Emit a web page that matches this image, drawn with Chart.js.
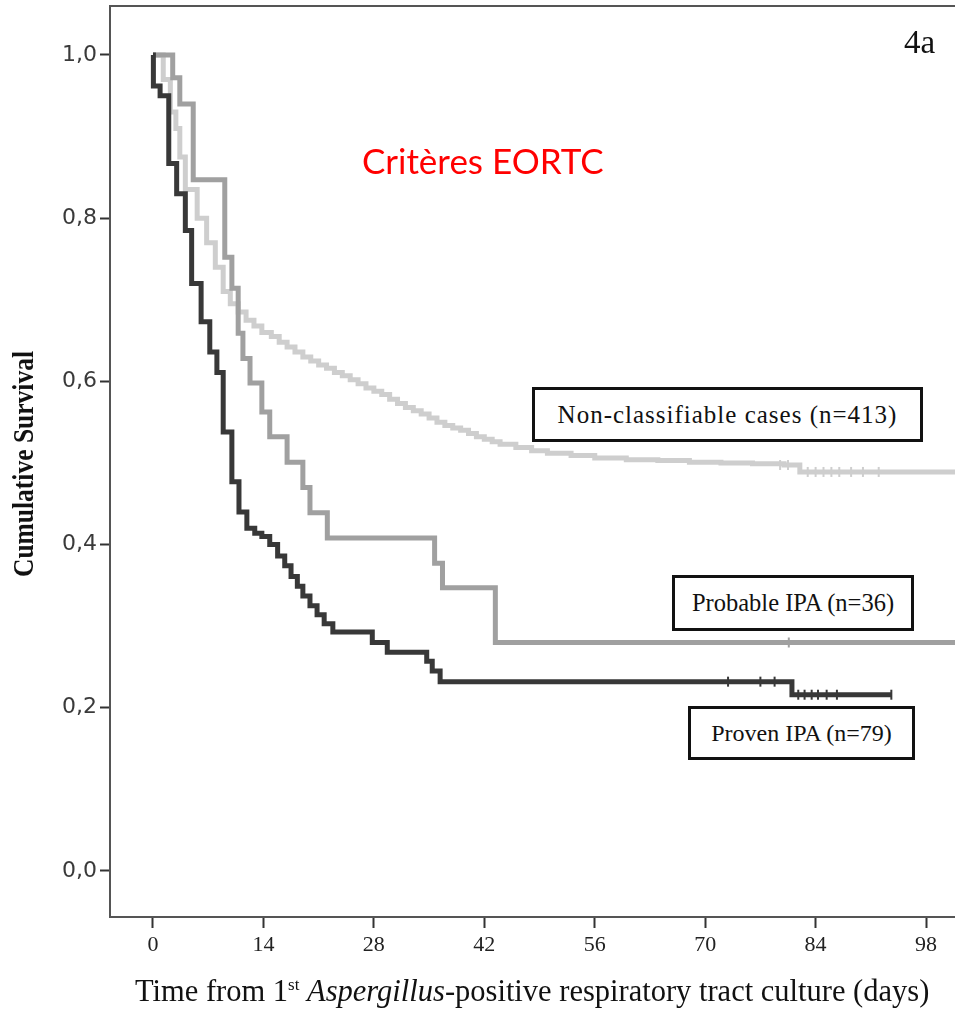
<!DOCTYPE html>
<html>
<head>
<meta charset="utf-8">
<script src="https://cdn.jsdelivr.net/npm/chart.js@4.4.1/dist/chart.umd.min.js"></script>
<style>
  html, body { margin: 0; background: #fff; overflow: hidden; }
  #wrap { position: relative; width: 955px; height: 1017px; overflow: hidden; }
  #km { display: block; }
  .box { position: absolute; box-sizing: border-box; border: 3px solid #111; background: #fff;
         font-family: "Liberation Serif", "Times New Roman", serif; color: #111;
         display: flex; align-items: center; justify-content: center; white-space: nowrap; }
  .note { position: absolute; white-space: nowrap; }
  #ytitle { position: absolute; left: 23px; top: 464px; white-space: nowrap;
            font-family: "Liberation Serif", serif; font-weight: bold; font-size: 30px; color: #111;
            transform: translate(-50%, -50%) rotate(-90deg) scaleX(0.85); }
</style>
</head>
<body>
<div id="wrap">
  <canvas id="km" width="955" height="1017"></canvas>
  <div id="ytitle">Cumulative Survival</div>
  <div class="note" style="left:904px;top:24px;font-family:'Liberation Serif',serif;font-size:33px;color:#111;">4a</div>
  <div class="note" style="left:362px;top:139px;font-family:Lato,'Open Sans',sans-serif;font-size:35px;color:#ff0000;">Critères EORTC</div>
  <div class="box" style="left:532px;top:387px;width:391px;height:55px;font-size:25px;letter-spacing:1px;">Non-classifiable cases (n=413)</div>
  <div class="box" style="left:672px;top:575px;width:242px;height:56px;font-size:24.5px;">Probable IPA (n=36)</div>
  <div class="box" style="left:688px;top:706px;width:227px;height:54px;font-size:24px;">Proven IPA (n=79)</div>
  <div class="note" style="left:135px;top:974px;font-family:'Liberation Serif',serif;font-size:30.5px;color:#111;">Time from 1<sup style="font-size:17px;">st</sup> <i>Aspergillus</i>-positive respiratory tract culture (days)</div>
</div>
<script>
// Kaplan-Meier curves (days, cumulative survival)
const provenDays = [0, 0.05, 0.9, 2.0, 3.0, 4.1, 4.9, 6.1, 7.2, 8.1, 8.9, 10.0, 10.9, 11.9, 12.9, 13.8, 14.8, 15.8, 16.7, 17.5, 18.3, 19.0, 19.9, 20.8, 21.7, 22.8, 27.8, 29.7, 34.7, 35.4, 36.4, 81.0, 93.6];
const provenSurv = [1.0, 0.962, 0.95, 0.867, 0.83, 0.785, 0.72, 0.673, 0.636, 0.611, 0.538, 0.477, 0.44, 0.42, 0.414, 0.41, 0.40, 0.386, 0.374, 0.361, 0.349, 0.337, 0.325, 0.314, 0.303, 0.293, 0.28, 0.268, 0.257, 0.245, 0.232, 0.216, 0.216];
const provenCensDays = [72.9, 77.0, 78.8, 81.8, 82.6, 83.5, 84.3, 85.4, 86.7, 93.6];
const provenCensSurv = [0.232, 0.232, 0.232, 0.216, 0.216, 0.216, 0.216, 0.216, 0.216, 0.216];

const probableDays = [0, 2.5, 3.4, 5.1, 9.1, 10.0, 10.8, 11.4, 12.3, 13.8, 14.8, 17.0, 19.0, 19.9, 22.1, 35.7, 36.7, 43.4, 101.7];
const probableSurv = [1.0, 0.972, 0.94, 0.847, 0.752, 0.714, 0.659, 0.628, 0.598, 0.5625, 0.532, 0.501, 0.47, 0.439, 0.408, 0.377, 0.347, 0.28, 0.28];
const probableCensDays = [80.6];
const probableCensSurv = [0.28];

const nonClassDays = [0, 1.3, 2.2, 2.9, 3.4, 4.1, 5.6, 6.8, 7.9, 8.9, 9.8, 10.8, 11.8, 12.8, 13.8, 15, 16, 17, 18, 19, 20, 21, 22, 23, 24, 25, 26, 27, 28, 29, 30, 31, 32, 33, 34, 35, 36, 37, 38, 39, 40, 41, 42, 43, 44, 46, 48, 50, 53, 56, 60, 64, 68, 72, 76, 80, 82, 101.7];
const nonClassSurv = [1.0, 0.97, 0.93, 0.91, 0.875, 0.835, 0.80, 0.77, 0.74, 0.71, 0.695, 0.685, 0.675, 0.668, 0.66, 0.655, 0.648, 0.642, 0.636, 0.63, 0.625, 0.62, 0.616, 0.611, 0.607, 0.602, 0.597, 0.592, 0.588, 0.584, 0.578, 0.573, 0.568, 0.564, 0.56, 0.555, 0.55, 0.546, 0.543, 0.54, 0.536, 0.532, 0.529, 0.526, 0.523, 0.519, 0.515, 0.512, 0.509, 0.506, 0.504, 0.503, 0.501, 0.5, 0.499, 0.4975, 0.489, 0.489];
const nonClassCensDays = [79.5, 80.5, 83.0, 84.0, 85.0, 86.0, 87.0, 88.5, 90.0, 92.0];
const nonClassCensSurv = [0.4975, 0.4975, 0.489, 0.489, 0.489, 0.489, 0.489, 0.489, 0.489, 0.489];

const xTicks = [0, 14, 28, 42, 56, 70, 84, 98];
const yTicks = [0.0, 0.2, 0.4, 0.6, 0.8, 1.0];

const pts = (xs, ys) => xs.map((x, i) => ({ x: x, y: ys[i] }));

function curve(xs, ys, color) {
    return {
        type: 'line',
        data: pts(xs, ys),
        borderColor: color,
        borderWidth: 5,
        stepped: 'before',   // horizontal then vertical, like a KM plot
        pointRadius: 0,
        fill: false
    };
}

function censors(xs, ys, color) {
    return {
        type: 'scatter',
        data: pts(xs, ys),
        borderColor: color,
        backgroundColor: color,
        pointStyle: 'line',
        rotation: 90,
        pointRadius: 5,
        borderWidth: 2
    };
}

// top frame line of the plot box
const frameTop = {
    id: 'frameTop',
    afterDraw(chart) {
        const { ctx, chartArea } = chart;
        ctx.save();
        ctx.strokeStyle = '#555';
        ctx.lineWidth = 2;
        ctx.beginPath();
        ctx.moveTo(chartArea.left, chartArea.top);
        ctx.lineTo(chartArea.right, chartArea.top);
        ctx.stroke();
        ctx.restore();
    }
};

new Chart(document.getElementById('km'), {
    data: {
        datasets: [
            curve(provenDays, provenSurv, '#383838'),
            censors(provenCensDays, provenCensSurv, '#383838'),
            curve(probableDays, probableSurv, '#a0a0a0'),
            censors(probableCensDays, probableCensSurv, '#a0a0a0'),
            curve(nonClassDays, nonClassSurv, '#cecece'),
            censors(nonClassCensDays, nonClassCensSurv, '#cecece')
        ]
    },
    options: {
        responsive: false,
        animation: false,
        layout: { autoPadding: false, padding: { top: 6, right: 0, left: 0, bottom: 0 } },
        plugins: { legend: { display: false }, tooltip: { enabled: false } },
        scales: {
            x: {
                type: 'linear',
                min: -5.45,
                max: 101.67,
                afterBuildTicks: s => { s.ticks = xTicks.map(v => ({ value: v })); },
                afterFit: s => { s.height = 100; s.paddingLeft = 0; s.paddingRight = 0; },
                border: { color: '#555', width: 2 },
                grid: { drawOnChartArea: false, tickLength: 11, tickColor: '#333', tickWidth: 2 },
                ticks: {
                    color: '#222',
                    padding: 4,
                    maxRotation: 0,
                    font: { family: 'Liberation Serif', size: 22 }
                }
            },
            y: {
                type: 'linear',
                min: -0.0564,
                max: 1.06,
                afterBuildTicks: s => { s.ticks = yTicks.map(v => ({ value: v })); },
                afterFit: s => { s.width = 110; s.paddingTop = 0; s.paddingBottom = 0; },
                border: { color: '#555', width: 2 },
                grid: { drawOnChartArea: false, tickLength: 10, tickColor: '#333', tickWidth: 2 },
                ticks: {
                    color: '#3a3a3a',
                    padding: 3,
                    font: { family: 'DejaVu Sans', size: 22 },
                    callback: v => v.toFixed(1).replace('.', ',')
                }
            }
        }
    },
    plugins: [frameTop]
});
</script>
</body>
</html>
